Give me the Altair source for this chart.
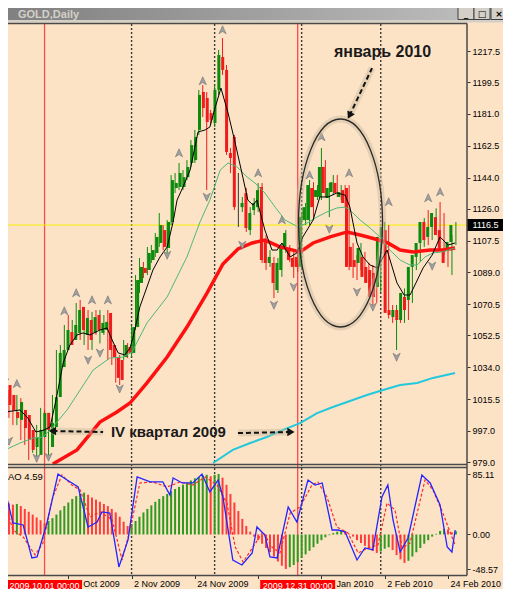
import json
import altair as alt
import pandas as pd

# ---------------- data ----------------
OPEN = [1023.7, 1017.9, 1008.0, 1003.4, 1009.2, 1006.3, 997.6, 987.7, 983.1, 993.5,
        1007.5, 987.7, 999.3, 1016.7, 1034.1, 1044.0, 1054.4, 1049.8, 1053.9, 1069.0,
        1052.7, 1061.4, 1053.9, 1064.3, 1053.9, 1055.6, 1065.5, 1046.9, 1039.9, 1038.2,
        1039.9, 1045.7, 1042.3, 1057.3, 1082.9, 1091.6, 1090.4, 1096.2, 1100.3, 1106.1,
        1113.6, 1103.2, 1118.3, 1138.0, 1138.6, 1138.6, 1144.3, 1152.5, 1154.2, 1171.7,
        1193.7, 1190.2, 1181.5, 1175.7, 1194.9, 1214.0, 1206.5, 1158.3, 1167.6, 1128.1,
        1126.9, 1135.1, 1113.6, 1125.2, 1126.9, 1138.6, 1107.8, 1094.5, 1094.5, 1078.8,
        1090.4, 1103.8, 1102.0, 1097.4, 1098.0, 1092.2, 1119.4, 1119.4, 1138.0, 1132.8,
        1132.8, 1150.2, 1132.2, 1135.7, 1140.9, 1132.8, 1136.8, 1138.0, 1103.8, 1096.2,
        1094.5, 1098.0, 1092.2, 1090.4, 1088.7, 1080.6, 1109.6, 1113.6, 1067.2, 1063.1,
        1067.2, 1061.4, 1074.8, 1073.0, 1092.2, 1098.0, 1106.1, 1118.3, 1109.6, 1115.4,
        1121.1, 1113.6, 1102.0, 1102.0, 1106.7]
HIGH = [1027.8, 1020.8, 1012.0, 1017.9, 1016.1, 1009.2, 1000.5, 996.4, 1000.5, 1010.4,
        1009.2, 1003.4, 1017.9, 1044.0, 1046.9, 1058.5, 1064.3, 1061.4, 1071.3, 1073.0,
        1066.1, 1067.2, 1066.1, 1067.2, 1067.2, 1064.3, 1067.2, 1049.8, 1044.0, 1041.1,
        1049.8, 1048.0, 1058.5, 1087.5, 1097.4, 1095.1, 1103.8, 1104.9, 1111.9, 1123.5,
        1116.5, 1119.4, 1145.5, 1146.7, 1152.5, 1148.4, 1154.2, 1165.8, 1171.7, 1194.9,
        1197.8, 1193.7, 1183.3, 1197.8, 1218.1, 1225.0, 1209.4, 1161.2, 1168.8, 1146.7,
        1132.8, 1138.0, 1126.9, 1132.2, 1140.9, 1140.9, 1110.7, 1102.0, 1098.0, 1097.4,
        1106.1, 1113.6, 1104.9, 1100.9, 1100.3, 1124.1, 1129.3, 1142.6, 1141.4, 1139.7,
        1161.2, 1154.2, 1140.9, 1145.5, 1145.5, 1139.7, 1139.7, 1139.7, 1106.1, 1099.1,
        1106.1, 1100.9, 1094.5, 1093.3, 1091.6, 1113.6, 1118.3, 1116.5, 1070.1, 1070.1,
        1070.1, 1079.7, 1077.7, 1095.0, 1102.0, 1109.0, 1120.6, 1125.2, 1120.6, 1126.2,
        1129.9, 1123.5, 1104.9, 1110.7, 1118.3]
LOW = [1009.2, 1004.6, 1000.4, 1000.4, 991.8, 988.9, 980.2, 984.3, 979.0, 991.8,
       996.0, 983.1, 997.6, 1015.0, 1032.4, 1041.1, 1045.8, 1046.9, 1052.7, 1049.8,
       1046.9, 1044.0, 1044.0, 1052.7, 1047.8, 1052.7, 1038.2, 1035.3, 1025.0, 1023.7,
       1038.2, 1039.3, 1039.9, 1055.6, 1077.1, 1085.8, 1087.5, 1094.5, 1098.0, 1103.8,
       1102.0, 1100.3, 1116.5, 1135.1, 1136.8, 1136.8, 1142.6, 1150.2, 1152.5, 1168.8,
       1179.2, 1136.8, 1174.6, 1173.4, 1192.0, 1203.6, 1157.2, 1146.7, 1125.2, 1115.4,
       1124.1, 1112.5, 1110.7, 1122.3, 1124.1, 1094.5, 1090.4, 1092.2, 1074.2, 1077.1,
       1086.4, 1100.3, 1095.0, 1085.8, 1089.3, 1090.4, 1116.5, 1116.5, 1119.4, 1131.0,
       1131.0, 1132.8, 1121.1, 1133.9, 1132.8, 1131.0, 1126.9, 1090.4, 1085.8, 1084.6,
       1090.4, 1082.9, 1079.7, 1069.0, 1071.3, 1077.7, 1106.7, 1062.2, 1059.7, 1044.0,
       1059.7, 1059.7, 1061.4, 1071.3, 1090.4, 1095.0, 1103.8, 1104.9, 1107.8, 1113.6,
       1107.8, 1099.1, 1092.2, 1087.5, 1104.9]
CLOSE = [1012.1, 1009.2, 1004.5, 1013.8, 998.7, 991.8, 986.0, 993.5, 997.6, 1007.5,
         997.6, 1001.6, 1016.7, 1042.3, 1044.0, 1055.6, 1046.9, 1058.5, 1067.2, 1055.6,
         1062.6, 1049.8, 1063.1, 1055.6, 1059.7, 1060.3, 1044.0, 1039.9, 1027.8, 1026.6,
         1046.9, 1042.3, 1057.3, 1084.6, 1092.2, 1088.7, 1100.3, 1102.0, 1109.6, 1116.5,
         1103.8, 1118.3, 1142.6, 1140.9, 1146.7, 1144.3, 1150.2, 1162.9, 1167.6, 1192.0,
         1184.4, 1176.3, 1177.5, 1194.9, 1215.2, 1206.5, 1158.9, 1155.4, 1126.9, 1128.1,
         1129.3, 1114.8, 1123.5, 1129.3, 1136.8, 1096.2, 1094.5, 1098.0, 1082.9, 1094.5,
         1103.8, 1111.9, 1096.2, 1092.2, 1092.2, 1121.2, 1126.9, 1139.7, 1126.9, 1136.8,
         1150.2, 1135.1, 1138.0, 1141.4, 1135.1, 1135.7, 1129.3, 1092.2, 1092.2, 1092.2,
         1103.2, 1086.4, 1082.9, 1074.8, 1074.8, 1109.6, 1115.4, 1065.5, 1064.3, 1067.2,
         1061.4, 1077.1, 1067.2, 1092.2, 1099.1, 1106.1, 1118.3, 1107.8, 1115.4, 1123.5,
         1110.7, 1102.0, 1094.5, 1106.7, 1116.5]

# moving averages
MA_FAST_I = [0, 3.8, 5.8, 7.8, 9.9, 11.4, 12.9, 14.7, 16.4, 18.2, 19.7, 21.5, 24, 25.8, 27.1,
             28.6, 30.3, 31.6, 32.4, 34.1, 35.9, 37.4, 39.2, 41, 42.5, 43.5, 45, 46.8, 48.8,
             50.6, 51.8, 53.1, 54.6, 56.4, 58.2, 59.9, 61.4, 62.7, 63.7, 65.7, 67.5, 68.8, 70,
             72.1, 73.8, 75.3, 77.9, 79.6, 81.7, 83.9, 86, 87.2, 89, 90.5, 92.3, 94.1, 96.6,
             99.1, 100.9, 102.4, 103.9, 105.7, 108, 110, 112, 113.8]
MA_FAST_V = [1008.0, 1009.2, 1004.5, 996.4, 997.6, 999.3, 1015.0, 1036.4, 1046.9, 1052.7, 1053.9,
             1052.7, 1055.6, 1056.8, 1049.8, 1042.3, 1041.1, 1045.2, 1051.5, 1069.0, 1080.6,
             1090.4, 1098.0, 1103.8, 1118.3, 1131.0, 1138.6, 1148.4, 1170.5, 1171.7, 1173.4,
             1184.4, 1196.0, 1181.5, 1164.1, 1146.7, 1131.0, 1128.1, 1131.0, 1113.6, 1102.0,
             1102.0, 1106.1, 1098.0, 1100.3, 1109.6, 1119.4, 1132.8, 1132.8, 1135.1, 1133.9,
             1126.9, 1106.1, 1098.0, 1093.3, 1091.6, 1102.0, 1082.9, 1075.9, 1075.9, 1082.9,
             1091.6, 1099.1, 1109.6, 1104.9, 1106.1]
MA_MID_I = [0, 3.8, 7.1, 9.6, 12.1, 15.7, 19, 22.3, 26.5, 29.8, 32.1, 35.9, 41, 46, 49.3, 51.8,
            54.4, 56.4, 58.7, 61.2, 63.2, 65.7, 68.3, 70.8, 74.1, 76.4, 78.9, 81.4, 83.9, 86,
            87.2, 89.8, 92.3, 94.8, 97.3, 99.9, 102.4, 104.2, 106.2, 108.2, 110.5, 113.8]
MA_MID_V = [986.0, 990.0, 992.9, 993.5, 999.3, 1009.2, 1020.8, 1032.4, 1039.3, 1039.9, 1042.8,
            1059.7, 1074.8, 1098.0, 1118.3, 1131.0, 1148.4, 1152.5, 1150.2, 1144.4, 1140.9,
            1135.1, 1126.9, 1119.4, 1115.4, 1117.7, 1121.2, 1124.1, 1126.4, 1126.9, 1125.2,
            1119.4, 1114.8, 1109.6, 1102.0, 1096.2, 1093.3, 1093.3, 1098.0, 1100.3, 1100.9,
            1103.2]
MA_SLOW_I = [12.1, 18.2, 24, 28.3, 31.6, 35.9, 41, 46, 51.1, 55.1, 58.9, 62.5, 65.7, 69.5, 74.6,
             77.9, 82.2, 86.5, 89.8, 93.6, 96.8, 99.9, 103.2, 107.5, 110.7, 113.8]
MA_SLOW_V = [977.8, 986.0, 1002.2, 1008.0, 1013.2, 1024.9, 1039.9, 1057.3, 1077.1, 1093.9,
             1102.6, 1106.1, 1107.8, 1103.8, 1100.9, 1106.1, 1109.6, 1112.5, 1110.7, 1108.4,
             1106.1, 1102.0, 1100.9, 1102.0, 1102.0, 1103.2]
MA_LONG_I = [52.6, 57.6, 62, 66.2, 70.3, 74.6, 78.9, 82.9, 86.5, 91.5, 95.6, 99.9, 104.2, 108.2, 113.8]
MA_LONG_V = [978.4, 986.0, 990.0, 993.5, 997.6, 1001.6, 1007.4, 1010.9, 1013.8, 1017.9, 1020.8,
             1023.7, 1024.9, 1027.8, 1030.6]

# fractal markers
FR_UP_I = [0, 3, 15, 18, 22, 26, 44, 50, 55, 64, 70, 77, 80, 87, 97, 107, 110]
FR_UP_V = [1028.9, 1024.4, 1066.6, 1077.1, 1073.0, 1073.0, 1158.3, 1200.1, 1229.7, 1146.7,
           1119.4, 1145.5, 1167.6, 1146.7, 1129.9, 1132.2, 1135.7]
FR_DN_I = [1, 8, 11, 21, 24, 29, 41, 51, 60, 68, 73, 82, 89, 93, 99, 108]
FR_DN_V = [991.2, 981.3, 981.9, 1038.2, 1042.3, 1021.5, 1099.1, 1132.8, 1104.9, 1070.1, 1080.6,
           1114.2, 1077.7, 1069.0, 1039.9, 1092.8]

# AO histogram (one value per bar)
AO = [47, 44, 42, 43, 40, 36, 32, 28, 24, 20,
      16, 19, 23, 28, 34, 40, 45, 50, 54, 57,
      59, 56, 52, 49, 46, 43, 40, 36, 31, 25,
      18, 12, 14, 19, 25, 31, 36, 41, 46, 50,
      54, 57, 61, 64, 67, 70, 73, 76, 79, 81,
      83, 84, 82, 84, 85.1, 80, 70, 57, 45, 33,
      22, 12, 4, -3, -8, -13, -19, -25, -31, -38,
      -44, -48.5, -46, -43, -39, -33, -28, -23, -18, -13,
      -8, -4, -1, 2, 4, 6, 5, 1, -3, -8,
      -12, -16, -20, -23, -26, -24, -20, -18, -22, -29,
      -35, -40, -37, -31, -25, -19, -13, -8, -3, 1,
      5, 8, 7, 3, 4.59]
AO_LAST = 4.59
# oscillator lines drawn in the AO window
OSC_BLUE_I = [0, 2, 4.6, 6.8, 8.1, 10.6, 13.4, 15.7, 18.5, 21, 23.3, 24.5, 26.5, 28.8, 31.1, 33.4,
              36.7, 39.9, 41.7, 42.5, 44.8, 47.5, 49.8, 51.8, 53.9, 55.1, 57.6, 59.9, 62.5, 63.7,
              65.7, 67, 68.8, 71.6, 73.8, 76.6, 78.4, 80.2, 82.7, 84.2, 86, 89, 91, 93, 95.3,
              96.8, 98.1, 99.9, 101.9, 105.4, 107.5, 110, 111.8, 113, 113.8]
OSC_BLUE_V = [62.6, 16.2, 13.4, -33.0, -31.7, 16.2, 85.0, 76.7, 66.8, 10.6, 17.6, 31.7, 30.2,
              -45.7, -7.7, 80.9, 73.9, 73.9, 55.6, 79.5, 72.5, 72.5, 85.0, 59.8, 76.7, 52.8,
              -35.9, -42.9, -26.0, 10.6, -0.7, -31.7, -33.0, 38.7, 17.6, 76.7, 69.6, 72.5, 6.3,
              6.3, 3.5, -35.9, -19.0, -21.8, 52.8, 69.6, 20.4, -24.6, -4.9, 83.7, 72.5, 41.5,
              -17.6, -24.6, 6.3]
OSC_RED_I = [0, 2, 4.6, 7.6, 9.6, 12.1, 14.4, 16.9, 19, 21.5, 24, 27.1, 29.6, 31.6, 34.1, 37.4,
             41, 44.2, 47.5, 50.6, 53.6, 56.1, 58.2, 60.2, 62.7, 65.2, 67.5, 69.5, 72.1, 74.6,
             77.6, 79.1, 81.4, 83.9, 86.7, 89.3, 91.8, 94.3, 96.6, 98.6, 100.4, 102.4, 106.2,
             108.2, 110.7, 113, 113.8]
OSC_RED_V = [44.3, 6.3, -3.5, -28.8, -12.0, 52.8, 83.7, 69.6, 62.6, 24.6, 31.7, 20.4, -35.9, 6.3,
             72.5, 73.9, 66.8, 73.9, 69.6, 80.9, 69.6, 44.3, -17.6, -38.7, -17.6, 3.5, -17.6,
             -26.0, 30.2, 38.7, 69.6, 73.9, 52.8, 10.6, 2.1, -26.0, -19.0, -14.8, 44.3, 34.5,
             -19.0, -12.0, 76.7, 62.6, 30.2, -3.5, -14.8]

PRICE_TICKS = [1217.5, 1199.5, 1181.0, 1162.5, 1144.0, 1126.0, 1107.5, 1089.0, 1070.5,
               1052.5, 1034.0, 1015.5, 997.0, 979.0]
AO_TICKS = [85.11, 0.0, -48.57]
DATE_TICK_I = [0, 16, 32, 48, 64, 80, 96, 112]
DATE_TICK_LABELS = ["17 Sep 2009", "14 Oct 2009", "2 Nov 2009", "24 Nov 2009",
                    "15 Dec 2009", "14 Jan 2010", "2 Feb 2010", "24 Feb 2010"]
MONTH_SEP_I = [32, 53, 75, 95]
VLINE_I = [10, 74]
VLINE_LABELS = ["2009.10.01 00:00", "2009.12.31 00:00"]
LAST_PRICE = 1116.5

# annotations
ARROW_NAMES = ["jan", "q4_left", "q4_right"]
ARROW_I0 = [92.8, 24.8, 58.9]
ARROW_P0 = [1207.6, 996.4, 995.8]
ARROW_I1 = [87.1, 12.0, 72.3]
ARROW_P1 = [1180.0, 997.0, 996.4]
ARROW_ANGLE = [207, 270, 90]
NOTE_TEXT = ["январь 2010", "IV квартал 2009"]
NOTE_I = [95.45, 41.3]
NOTE_P = [1213.9, 993.7]
NOTE_SIZE = [16, 15]
ELLIPSE_I = 84.83
ELLIPSE_P = 1117.7

# ---------------- layout ----------------
N = len(CLOSE)
W, H = 495, 581
FONT = "Liberation Sans"
BG = "#FDE3C6"
FRAME = "#4a4a4a"
GREEN = "#0c8a0c"
RED = "#f01c1c"

xs = alt.Scale(domain=[0, N - 1], range=[-3.0, 447.9], nice=False, zero=False)
ps = alt.Scale(domain=[979.0, 1217.5], range=[454, 43], nice=False, zero=False)
aos = alt.Scale(domain=[-48.57, 85.11], range=[561, 466], nice=False, zero=False)


def X(field="i", axis=None):
    return alt.X(f"{field}:Q", scale=xs, axis=axis)


def YP(field, axis=None):
    return alt.Y(f"{field}:Q", scale=ps, axis=axis)


def YA(field, axis=None):
    return alt.Y(f"{field}:Q", scale=aos, axis=axis)


bars = pd.DataFrame({"i": list(range(N)), "o": OPEN, "h": HIGH, "l": LOW, "c": CLOSE})
bars["dir"] = ["up" if c > o else ("down" if c < o else "flat") for o, c in zip(OPEN, CLOSE)]
dir_color = alt.Color("dir:N", scale=alt.Scale(domain=["up", "down", "flat"],
                                               range=[GREEN, RED, "#333333"]), legend=None)

ao_df = pd.DataFrame({"i": list(range(N)), "v": AO})
ao_df["dir"] = ["up" if k == 0 or v > AO[k - 1] else "down" for k, v in enumerate(AO)]

PAXIS = alt.Axis(orient="right", offset=-36, values=PRICE_TICKS, format=".1f", domain=False,
                 grid=False, tickSize=3, tickColor="#333333", labelPadding=2, labelFont=FONT,
                 labelFontSize=9, labelColor="#000000", title=None, labelOverlap=False,
                 labelFlush=False, labelBound=False)
AOAXIS = alt.Axis(orient="right", offset=-36, values=AO_TICKS,
                  labelExpr="replace(format(datum.value, '.2f'), '\u2212', '-')", domain=False,
                  grid=False, tickSize=3, tickColor="#333333", labelPadding=2, labelFont=FONT,
                  labelFontSize=9, labelColor="#000000", title=None, labelOverlap=False,
                  labelFlush=False, labelBound=False)
XAXIS = alt.Axis(orient="bottom", offset=-13.5, values=DATE_TICK_I,
                 labelExpr=f"{json.dumps(DATE_TICK_LABELS)}[indexof({json.dumps(DATE_TICK_I)}, datum.value)]",
                 domain=False, grid=False, tickSize=3, tickColor="#333333", labelAlign="left",
                 labelBaseline="top", labelPadding=1, labelOffset=2, labelFont=FONT,
                 labelFontSize=9, labelColor="#000000", title=None, labelOverlap=False,
                 labelFlush=False, labelBound=False)

UP_ARROW = "M0,-1L0.85,0.9L0,0.35L-0.85,0.9Z"
DN_ARROW = "M0,1L0.85,-0.9L0,-0.35L-0.85,-0.9Z"
ELLIPSE = "M0,-1A0.404,1 0 1,1 0,1A0.404,1 0 1,1 0,-1Z"
BOX_WIDE = "M-1,-0.1333L1,-0.1333L1,0.1333L-1,0.1333Z"
BOX_PRICE = "M-1,-0.333L1,-0.333L1,0.333L-1,0.333Z"

L = []

# ---- window chrome ----
L.append(alt.Chart().mark_rect(color={"gradient": "linear", "x1": 0, "x2": 1, "y1": 0, "y2": 0,
                                      "stops": [{"offset": 0, "color": "#808080"},
                                                {"offset": 1, "color": "#C0C0C0"}]})
         .encode(x=alt.value(0), x2=alt.value(W), y=alt.value(0), y2=alt.value(12)))
L.append(alt.Chart().mark_rect(color="#D4D0C8")
         .encode(x=alt.value(0), x2=alt.value(W), y=alt.value(12), y2=alt.value(14.5)))
L.append(alt.Chart().mark_text(text="GOLD,Daily", font=FONT, fontSize=11, fontWeight="bold",
                               color="#D4D0C8", align="left", baseline="alphabetic")
         .encode(x=alt.value(10), y=alt.value(9.5)))
for x0, x1, g in [(450, 466, "_"), (466, 482, "□"), (483, 499, "×")]:
    L.append(alt.Chart().mark_rect(color="#D4D0C8", stroke="#404040", strokeWidth=1)
             .encode(x=alt.value(x0), x2=alt.value(x1), y=alt.value(-2), y2=alt.value(11.5)))
    L.append(alt.Chart().mark_text(text=g, font="DejaVu Sans", fontSize=9, fontWeight="bold",
                                   color="#000000", align="center", baseline="middle")
             .encode(x=alt.value((x0 + x1) / 2), y=alt.value(5.5)))

# ---- vertical separators / lines ----
sep_df = pd.DataFrame({"i": MONTH_SEP_I})
L.append(alt.Chart(sep_df).mark_rule(color="#3a3a3a", strokeWidth=1.4, strokeDash=[2, 2])
         .encode(x=X(), y=alt.value(16), y2=alt.value(567.5)))
vl_df = pd.DataFrame({"i": VLINE_I, "t": VLINE_LABELS})
L.append(alt.Chart(vl_df).mark_rule(color="#FF4A4A", strokeWidth=1.3)
         .encode(x=X(), y=alt.value(16), y2=alt.value(567.5)))
lp_df = pd.DataFrame({"p": [LAST_PRICE], "t": [f"{LAST_PRICE:.1f}"]})
L.append(alt.Chart(lp_df).mark_rule(color="#F5F000", strokeWidth=1)
         .encode(y=YP("p"), x=alt.value(0), x2=alt.value(459)))

# ---- candles ----
L.append(alt.Chart(bars).mark_rule(strokeWidth=1)
         .encode(x=X(), y=YP("l", PAXIS), y2="h:Q", color=dir_color))
L.append(alt.Chart(bars).mark_bar(size=3)
         .encode(x=X(), y=YP("o"), y2="c:Q", color=dir_color))

# ---- moving averages ----
def line_layer(I, V, **kw):
    df = pd.DataFrame({"i": I, "v": V})
    return alt.Chart(df).mark_line(**kw).encode(x=X(), y=YP("v"))

L.append(line_layer(MA_LONG_I, MA_LONG_V, color="#22C8DC", strokeWidth=2))
L.append(line_layer(MA_SLOW_I, MA_SLOW_V, color="#FF1010", strokeWidth=3.5))
L.append(line_layer(MA_MID_I, MA_MID_V, color="#4DB87A", strokeWidth=1))
L.append(line_layer(MA_FAST_I, MA_FAST_V, color="#000000", strokeWidth=1))

# ---- fractals ----
L.append(alt.Chart(pd.DataFrame({"i": FR_UP_I, "v": FR_UP_V}))
         .mark_point(shape=UP_ARROW, size=72, filled=True, color="#A0A0A0", stroke="#707070",
                     strokeWidth=0.6, opacity=1)
         .encode(x=X(), y=YP("v")))
L.append(alt.Chart(pd.DataFrame({"i": FR_DN_I, "v": FR_DN_V}))
         .mark_point(shape=DN_ARROW, size=72, filled=True, color="#A0A0A0", stroke="#707070",
                     strokeWidth=0.6, opacity=1)
         .encode(x=X(), y=YP("v")))

# ---- AO window ----
L.append(alt.Chart(ao_df).mark_rule(strokeWidth=2)
         .encode(x=X(axis=XAXIS), y=YA("v"), y2=alt.datum(0),
                 color=alt.Color("dir:N", scale=alt.Scale(domain=["up", "down"],
                                                          range=["#2f9a1f", "#ff3d3d"]),
                                 legend=None)))
L.append(alt.Chart(pd.DataFrame({"i": OSC_RED_I, "v": OSC_RED_V}))
         .mark_line(color="#FF2B2B", strokeWidth=1.2, strokeDash=[3, 2])
         .encode(x=X(), y=YA("v")))
L.append(alt.Chart(pd.DataFrame({"i": OSC_BLUE_I, "v": OSC_BLUE_V}))
         .mark_line(color="#2424FF", strokeWidth=1.3)
         .encode(x=X(), y=YA("v", AOAXIS)))
L.append(alt.Chart().mark_text(text=f"AO {AO_LAST}", font=FONT, fontSize=9.5, color="#000000",
                               align="left", baseline="middle")
         .encode(x=alt.value(0), y=alt.value(469)))

# ---- frame ----
for ya in [15.5, 456.5, 459.5, 567.5]:
    L.append(alt.Chart().mark_rule(color=FRAME, strokeWidth=1.5)
             .encode(x=alt.value(0), x2=alt.value(459), y=alt.value(ya)))
L.append(alt.Chart().mark_rule(color=FRAME, strokeWidth=1.5)
         .encode(x=alt.value(459), y=alt.value(15.5), y2=alt.value(567.5)))

# ---- annotations ----
ell_df = pd.DataFrame({"i": [ELLIPSE_I], "v": [ELLIPSE_P]})
L.append(alt.Chart(ell_df).mark_point(shape=ELLIPSE, size=43264, filled=False, stroke="#C9B79C",
                                       strokeWidth=7, opacity=0.45, dx=3, dy=-3)
         .encode(x=X(), y=YP("v")))
L.append(alt.Chart(ell_df).mark_point(shape=ELLIPSE, size=43264, filled=False, stroke="#2a2a2a",
                                       strokeWidth=1.3, opacity=1)
         .encode(x=X(), y=YP("v")))

arr_rows = []
for n, a0, b0, a1, b1 in zip(ARROW_NAMES, ARROW_I0, ARROW_P0, ARROW_I1, ARROW_P1):
    arr_rows.append({"k": n, "i": a0, "v": b0})
    arr_rows.append({"k": n, "i": a1, "v": b1})
arr_df = pd.DataFrame(arr_rows)
L.append(alt.Chart(arr_df).mark_line(color="#C9B79C", strokeWidth=7, opacity=0.45)
         .encode(x=X(), y=YP("v"), detail="k:N"))
L.append(alt.Chart(arr_df).mark_line(color="#111111", strokeWidth=2, strokeDash=[5, 3])
         .encode(x=X(), y=YP("v"), detail="k:N"))
head_df = pd.DataFrame({"i": ARROW_I1, "v": ARROW_P1, "a": ARROW_ANGLE})
L.append(alt.Chart(head_df).mark_point(shape="triangle-up", size=70, filled=True,
                                        color="#111111", opacity=1)
         .encode(x=X(), y=YP("v"), angle=alt.Angle("a:Q", scale=None)))

for t, ii, pp, fs in zip(NOTE_TEXT, NOTE_I, NOTE_P, NOTE_SIZE):
    L.append(alt.Chart(pd.DataFrame({"i": [ii], "v": [pp], "t": [t]}))
             .mark_text(font=FONT, fontSize=fs, fontWeight="bold", color="#1a1a1a",
                        align="center", baseline="alphabetic")
             .encode(x=X(), y=YP("v"), text="t:N"))

# ---- price tag and date tags ----
L.append(alt.Chart(lp_df).mark_point(shape=BOX_PRICE, size=36 * 36, filled=True,
                                      color="#000000", opacity=1)
         .encode(x=alt.value(477.5), y=YP("p")))
L.append(alt.Chart(lp_df).mark_text(font=FONT, fontSize=9, color="#FFFFFF", align="center",
                                     baseline="middle")
         .encode(x=alt.value(477.5), y=YP("p"), text="t:N"))
L.append(alt.Chart(vl_df).mark_point(shape=BOX_WIDE, size=75 * 75, filled=True,
                                      color="#FF0000", opacity=1)
         .encode(x=X(), y=alt.value(577)))
L.append(alt.Chart(vl_df).mark_text(font=FONT, fontSize=9, color="#FFFFFF", align="center",
                                     baseline="middle")
         .encode(x=X(), y=alt.value(577.5), text="t:N"))

chart = (alt.layer(*L)
         .resolve_scale(x="independent", y="independent", color="independent")
         .properties(width=W, height=H, autosize=alt.AutoSizeParams(type="none"), padding=0,
                     background=BG)
         .configure_view(strokeWidth=0))

chart.save("out.html", embed_options={"renderer": "svg", "actions": False})
